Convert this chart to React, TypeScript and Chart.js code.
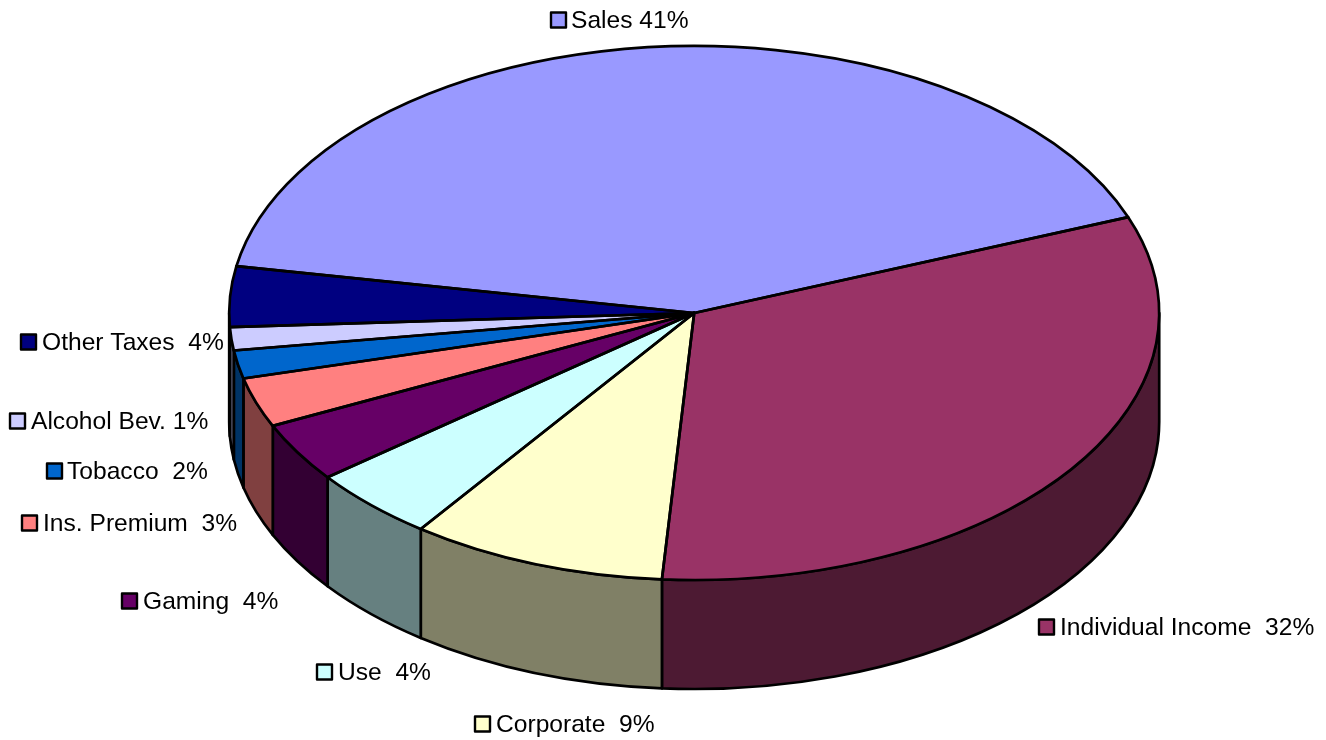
import React, { useEffect, useRef } from "react";
import { Chart, registerables } from "chart.js";

Chart.register(...registerables);

const categories = ["Sales", "Individual Income", "Corporate", "Use", "Gaming", "Ins. Premium", "Tobacco", "Alcohol Bev.", "Other Taxes"];
const shareValues = [41.35, 31.95, 8.9, 4.45, 3.6, 3.0, 1.7, 1.4, 3.65];
const labelTexts = ["Sales 41%", "Individual Income  32%", "Corporate  9%", "Use  4%", "Gaming  4%", "Ins. Premium  3%", "Tobacco  2%", "Alcohol Bev. 1%", "Other Taxes  4%"];
const faceColors = ["#9999FF", "#993366", "#FFFFCC", "#CCFFFF", "#660066", "#FF8080", "#0066CC", "#CCCCFF", "#000080"];
const wallColors = ["#4D4D80", "#4D1A33", "#808066", "#668080", "#330033", "#804040", "#003366", "#666680", "#000040"];

const WIDTH = 1326;
const HEIGHT = 740;
const CX = 694.2;
const CY = 313;
const RX = 465;
const RY = 267;
const DEPTH = 109;
const STROKE = 2.7;
const SWATCH = 15;
const labelLayout: [number, number, number][] = [
  [551, 571, 20],
  [1039, 1060, 627],
  [475, 496, 724],
  [317, 338, 672],
  [122, 143, 601],
  [22, 43, 523],
  [47, 67, 471],
  [10, 31, 421],
  [21, 42, 342],
];

const pie3d = {
  id: "pie3d",
  beforeDatasetsDraw(chart: any) {
    const { ctx } = chart;
    const arcs = chart.getDatasetMeta(0).data;
    const x0 = arcs[0].x;
    const y0 = arcs[0].y;
    const r = arcs[0].outerRadius;
    ctx.save();
    ctx.lineWidth = STROKE;
    ctx.strokeStyle = "#000";
    ctx.lineJoin = "round";
    arcs.forEach((arc: any, i: number) => {
      // Normalise the sweep to canvas angles, then keep only the front half.
      const turn = Math.PI * 2;
      let s = arc.startAngle % turn;
      if (s < -1e-6) s += turn;
      const e = s + (arc.endAngle - arc.startAngle);
      for (const k of [0, turn]) {
        const a = Math.max(s - k, 0);
        const b = Math.min(e - k, Math.PI);
        if (b <= a) continue;
        ctx.beginPath();
        ctx.ellipse(CX, CY, RX, RY, 0, a, b);
        ctx.lineTo(CX + RX * Math.cos(b), CY + RY * Math.sin(b) + DEPTH);
        ctx.ellipse(CX, CY + DEPTH, RX, RY, 0, b, a, true);
        ctx.closePath();
        ctx.fillStyle = wallColors[i];
        ctx.fill();
        ctx.stroke();
      }
    });
    ctx.restore();
    // Faces are drawn by the library's arc elements through this transform.
    ctx.save();
    ctx.translate(CX, CY);
    ctx.scale(RX / r, RY / r);
    ctx.translate(-x0, -y0);
  },
  afterDatasetsDraw(chart: any) {
    const { ctx } = chart;
    ctx.restore();
    const arcs = chart.getDatasetMeta(0).data;
    ctx.save();
    ctx.lineWidth = STROKE;
    ctx.strokeStyle = "#000";
    ctx.lineJoin = "round";
    arcs.forEach((arc: any) => {
      ctx.beginPath();
      ctx.moveTo(CX, CY);
      ctx.ellipse(CX, CY, RX, RY, 0, arc.startAngle, arc.endAngle);
      ctx.closePath();
      ctx.stroke();
    });
    ctx.font = '24.6px "Liberation Sans", Arial, sans-serif';
    ctx.textBaseline = "middle";
    ctx.textAlign = "left";
    labelTexts.forEach((text, i) => {
      const [sx, tx, y] = labelLayout[i];
      ctx.fillStyle = faceColors[i];
      ctx.fillRect(sx, y - SWATCH / 2, SWATCH, SWATCH);
      ctx.lineWidth = 2.4;
      ctx.strokeStyle = "#000";
      ctx.strokeRect(sx, y - SWATCH / 2, SWATCH, SWATCH);
      ctx.fillStyle = "#000";
      ctx.fillText(text, tx, y + 1);
    });
    ctx.restore();
  },
};

export default function App() {
  const ref = useRef<HTMLCanvasElement>(null);
  useEffect(() => {
    const chart = new Chart(ref.current!, {
      type: "pie",
      data: {
        labels: categories,
        datasets: [
          {
            data: shareValues,
            backgroundColor: faceColors,
            borderWidth: 0,
            clip: false,
          } as any,
        ],
      },
      options: {
        animation: false,
        responsive: false,
        devicePixelRatio: 1,
        rotation: -79.9,
        layout: { padding: 0 },
        events: [],
        plugins: { legend: { display: false }, tooltip: { enabled: false } },
      },
      plugins: [pie3d],
    });
    return () => chart.destroy();
  }, []);
  return (
    <canvas
      ref={ref}
      width={WIDTH}
      height={HEIGHT}
      style={{ position: "absolute", left: 0, top: 0, width: WIDTH, height: HEIGHT, background: "#fff" }}
    />
  );
}
